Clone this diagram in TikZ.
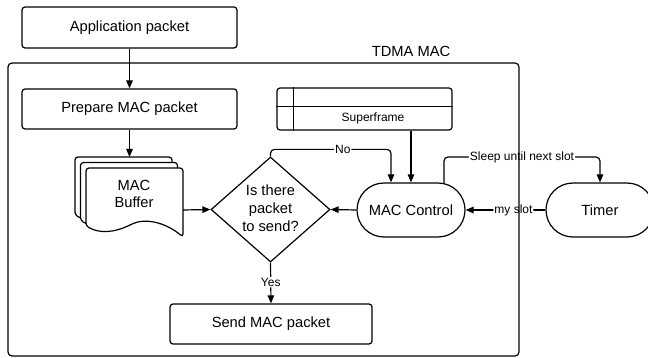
\documentclass[tikz,border=0pt]{standalone}
\usepackage{fontspec}
\setmainfont{Liberation Sans}
\usetikzlibrary{shapes.geometric,shapes.misc,arrows.meta}
\begin{document}
\begin{tikzpicture}[x=1pt,y=-1pt,line width=1.2pt,
  mainfont/.style={font=\fontsize{14.7}{17.8}\selectfont},
  box/.style={draw,rounded corners=3pt,inner sep=0pt,mainfont},
  term/.style={draw,rounded rectangle,minimum width=108pt,minimum height=54pt,inner sep=0pt,mainfont},
  lab/.style={fill=white,inner sep=1pt,font=\fontsize{12}{14}\selectfont},
  smalltext/.style={inner sep=0pt,font=\fontsize{12}{14}\selectfont},
  arr/.style={-{Triangle[length=8pt,width=6.5pt]},rounded corners=4pt},
  docpage/.pic={
    \draw[fill=white,rounded corners=3pt] (0,58) -- (0,0) -- (97,0) -- (97,69)
      .. controls (79,54) and (59,50) .. (44,57)
      .. controls (29,64) and (14,66) .. (0,58) -- cycle;
  }]
\useasboundingbox (0,0) rectangle (648,358);

% nodes
\node[box,minimum width=215pt,minimum height=41pt] (app) at (129.5,27.5) {Application packet};
\node[box,minimum width=215pt,minimum height=40pt] (prep) at (129.5,109) {Prepare MAC packet};

\node[draw,rounded corners=3pt,minimum width=175pt,minimum height=42pt,inner sep=0pt] (sf) at (364.5,109) {};
\draw ([xshift=17pt]sf.north west) -- ([xshift=17pt]sf.south west);
\draw ([yshift=-19pt]sf.north west) -- ([yshift=-19pt]sf.north east);
\node[smalltext] (sftext) at (373,118.5) {Superframe};

% MAC buffer (stacked documents)
\pic at (75,157) {docpage};
\pic at (80.5,162.5) {docpage};
\pic at (86,168) {docpage};
\node[mainfont,align=center,inner sep=0pt] (buf) at (134,194) {MAC\\Buffer};
\coordinate (bufT) at (129.5,157);
\coordinate (bufR) at (183,210);

\node[draw,diamond,aspect=1.13,minimum width=119pt,minimum height=105pt,inner sep=0pt] (dia) at (270.5,209.5) {};
\node[mainfont,align=center,inner sep=0pt] (diatext) at (270.5,208.5) {Is there\\packet\\to send?};

\node[term] (ctrl) at (411,210) {MAC Control};
\node[term] (timer) at (600,210) {Timer};
\node[box,minimum width=202pt,minimum height=40pt] (send) at (271,324) {Send MAC packet};

% connectors
\draw[arr] (app.south) -- (prep.north);
\draw[arr] (prep.south) -- (bufT);
\draw[arr] (bufR) -- (dia.west);
\draw[arr] (ctrl.west) -- (dia.east);
\draw[arr] (sf.south -| ctrl.north) -- (ctrl.north);
\draw[arr] (dia.north) -- ++(0,-7) -| node[lab,pos=0.3]{No} ([xshift=-20pt]ctrl.north);
\draw[arr] ([xshift=33pt,yshift=-0.6pt]ctrl.north) -- ++(0,-26) -| node[lab,pos=0.25]{Sleep until next slot} (timer.north);
\draw[arr] (timer.west) -- node[lab,pos=0.4]{my slot} (ctrl.east);
\draw[arr] (dia.south) -- node[lab,pos=0.48]{Yes} (send.north);

% container
\node[draw,rounded corners=4pt,minimum width=511pt,minimum height=293pt,inner sep=0pt] (mac) at (263.5,209.5) {};
\node[mainfont,inner sep=0pt] (maclab) at (411,51) {TDMA MAC};
\end{tikzpicture}
\end{document}
